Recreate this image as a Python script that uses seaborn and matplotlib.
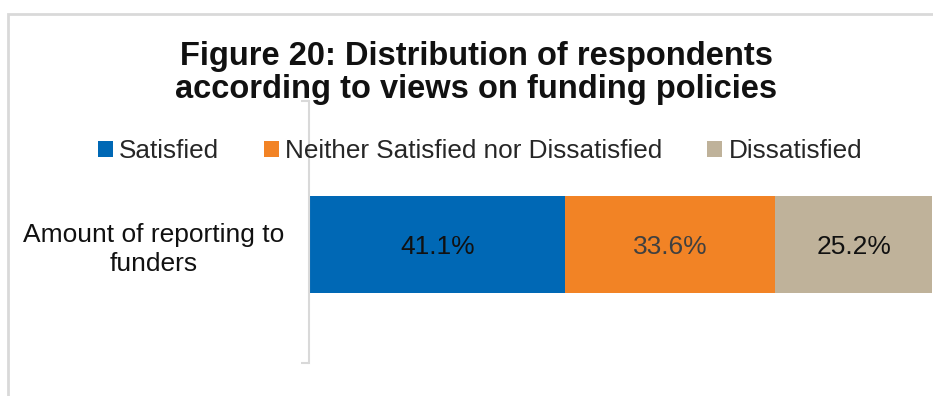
import numpy as np
import pandas as pd
import matplotlib
matplotlib.use("Agg")
import matplotlib.pyplot as plt
from matplotlib.patches import Patch, Rectangle
import seaborn as sns

# Survey results: share of respondents per view
category = ["Amount of reporting to\nfunders"]
responses = ["Satisfied", "Neither Satisfied nor Dissatisfied", "Dissatisfied"]
shares = [41.1, 33.6, 25.2]
colors = ["#0068B5", "#F28325", "#BFB29A"]
label_colors = ["#111111", "#404040", "#111111"]
title = "Figure 20: Distribution of respondents\naccording to views on funding policies"

sns.set_theme(style="white")
plt.rcParams["font.family"] = ["Liberation Sans", "DejaVu Sans"]

W, H = 933, 396
fig = plt.figure(figsize=(W / 100, H / 100), dpi=100)

# light frame around the chart area
fig.patches.append(Rectangle((8 / W, -0.05), 1.2, (H - 14) / H + 0.05,
                             transform=fig.transFigure, fill=False,
                             edgecolor="#d9d9d9", linewidth=2, zorder=0))

ax = fig.add_axes([309 / W, 1 - 363 / H, 1 - 309 / W, (363 - 101) / H])

# stacked bar: draw cumulative totals from the longest down
cum = np.cumsum(shares)
df = pd.DataFrame({"cat": category * len(shares), "resp": responses, "cum": cum})
for i in reversed(range(len(shares))):
    sns.barplot(data=df.iloc[[i]], x="cum", y="cat", orient="h", color=colors[i],
                width=0.37, ax=ax, edgecolor="none", linewidth=0, saturation=1)

lefts = np.concatenate([[0], cum[:-1]])
for left, val, lc in zip(lefts, shares, label_colors):
    ax.text(left + val / 2, 0, f"{val:.1f}%", ha="center", va="center_baseline",
            fontsize=19, color=lc)

ax.set_xlim(0, 100)
ax.set_ylim(0.452, -0.548)
ax.set_xlabel("")
ax.set_ylabel("")
ax.xaxis.set_visible(False)
for s in ["top", "right", "bottom"]:
    ax.spines[s].set_visible(False)
ax.spines["left"].set_color("#d9d9d9")
ax.spines["left"].set_linewidth(1.5)
ax.set_yticks([0])
ax.set_yticklabels(category, fontsize=19, color="#111111", multialignment="center",
                   linespacing=1.25)
ax.tick_params(axis="y", which="major", left=True, length=0, pad=18)
ax.set_yticks([0.452, -0.548], minor=True)
ax.tick_params(axis="y", which="minor", left=True, length=6, width=1.5,
               color="#d9d9d9")

handles = [Patch(facecolor=c, edgecolor="none") for c in colors]
fig.legend(handles, responses, loc="center", bbox_to_anchor=(480 / W, 1 - 151 / H),
           ncol=3, frameon=False, fontsize=18.8, handlelength=0.58, handleheight=0.58,
           handletextpad=0.25, columnspacing=1.7, borderaxespad=0, borderpad=0)

fig.text(476 / W, 1 - 73 / H, title, ha="center", va="center", fontsize=23.5,
         fontweight="bold", color="#111111", linespacing=1.12)

fig.savefig("out.png", dpi=100)
